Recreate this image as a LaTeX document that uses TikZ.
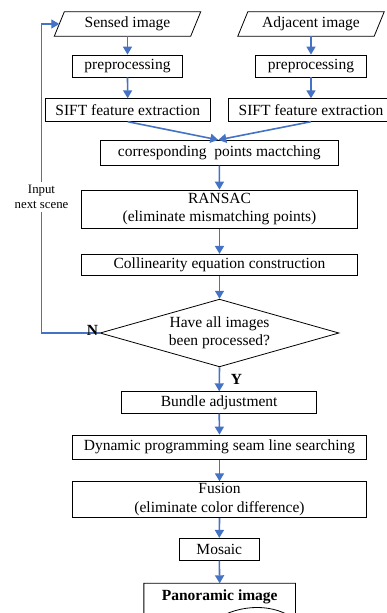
\documentclass[tikz,border=0pt]{standalone}
\usepackage{fontspec}
\setmainfont{Liberation Serif}
\usetikzlibrary{arrows.meta,shapes.geometric,calc}
\definecolor{flowblue}{HTML}{4472C4}
\begin{document}
\begin{tikzpicture}[x=1pt,y=-1pt,
  every node/.style={font=\rmfamily\fontsize{15.5}{18.5}\selectfont, inner sep=0pt, align=center},
  box/.style={draw=black, line width=0.8pt, rectangle},
  plain/.style={rectangle},
  flow/.style={draw=flowblue, line width=1.6pt, -{Triangle[length=8pt,width=9pt]}},
  loopline/.style={draw=flowblue, line width=1.1pt, -{Triangle[length=8pt,width=9pt]}},
  para/.style={draw=black, line width=0.8pt}
]
\useasboundingbox (0,0) rectangle (387,613);
\clip (0,0) rectangle (387,613);

% input parallelograms
\node[plain, minimum width=136, minimum height=24] (s1) at (127.5,24) {Sensed image};
\node[plain, minimum width=136, minimum height=24] (s2) at (311,24) {Adjacent image};
\foreach \n in {s1,s2}{
  \draw[para] ($(\n.south west)+(-5,0)$) -- ($(\n.north west)+(5,0)$) -- ($(\n.north east)+(5,0)$) -- ($(\n.south east)+(-5,0)$) -- cycle;
}

\node[box, minimum width=110.4, minimum height=22] (p1) at (127.5,66) {preprocessing};
\node[box, minimum width=110.4, minimum height=22] (p2) at (311,66) {preprocessing};
\node[box, minimum width=165.3, minimum height=22.6] (f1) at (127.7,110) {SIFT feature extraction};
\node[box, minimum width=166, minimum height=22.6] (f2) at (311,110) {SIFT feature extraction};
\node[box, minimum width=238.7, minimum height=25] (cm) at (219.3,152.8) {corresponding\ \ points mactching};
\node[box, minimum width=275.6, minimum height=38.3] (rs) at (219.5,209.2) {RANSAC\\(eliminate mismatching points)};
\node[box, minimum width=275.6, minimum height=21.4] (ce) at (219.5,265) {Collinearity equation construction};
\node[diamond, draw=black, line width=0.8pt, aspect=3.53, minimum width=239, minimum height=67.7] (dm) at (219.5,333) {Have all images\\been processed?};
\node[box, minimum width=195, minimum height=21.6] (ba) at (219.2,402.5) {Bundle adjustment};
\node[box, minimum width=294.4, minimum height=24.3] (dp) at (219.5,447.2) {Dynamic programming seam line searching};
\node[box, minimum width=294.4, minimum height=36] (fu) at (219.5,499.7) {Fusion\\(eliminate color difference)};
\node[box, minimum width=80.7, minimum height=22] (mo) at (219.3,549.3) {Mosaic};
\node[plain, anchor=north, minimum width=151.3, minimum height=27.4] (pa) at (219.7,583.3) {\bfseries Panoramic image};
% document shape of the panoramic image (cut off by the page edge)
\draw[para] ($(pa.north west)+(0,60)$) -- (pa.north west) -- (pa.north east) -- ($(pa.north east)+(0,36.7)$)
  .. controls ($(pa.north east)+(-20.3,20)$) and ($(pa.north east)+(-55.3,20)$) .. ($(pa.north west)+(71,36.7)$)
  .. controls ($(pa.north west)+(46,55)$) and ($(pa.north west)+(20,55)$) .. ($(pa.north west)+(0,40)$);

% flow arrows
\draw[flow] (s1.south) -- (p1.north);
\draw[flow] (s2.south) -- (p2.north);
\draw[flow] (p1.south) -- (f1.north);
\draw[flow] (p2.south) -- (f2.north);
\draw[flow] (f1.south) -- ($(cm.north)+(-1,0)$);
\draw[flow] (f2.south) -- ($(cm.north)+(-1,0)$);
\draw[flow] (cm.south) -- (rs.north);
\draw[flow] (rs.south) -- (ce.north);
\draw[flow] (ce.south) -- (dm.north);
\draw[flow] (dm.south) -- (ba.north);
\draw[flow] (ba.south) -- (dp.north);
\draw[flow] (dp.south) -- (fu.north);
\draw[flow] (fu.south) -- (mo.north);
\draw[flow] (mo.south) -- (pa.north);

% loop back
\coordinate (lc) at (41.5,333);
\draw[loopline] (dm.west) -- (lc) |- (s1.west);
\node[fill=white, inner sep=3pt, font=\rmfamily\fontsize{12.8}{15}\selectfont] (in) at (41.5,197) {Input\\next scene};

% labels
\node[font=\rmfamily\bfseries\fontsize{15.5}{18}\selectfont] (nl) at (92.5,330) {N};
\node[font=\rmfamily\bfseries\fontsize{15.5}{18}\selectfont] (yl) at (236.5,379.5) {Y};
\end{tikzpicture}
\end{document}
